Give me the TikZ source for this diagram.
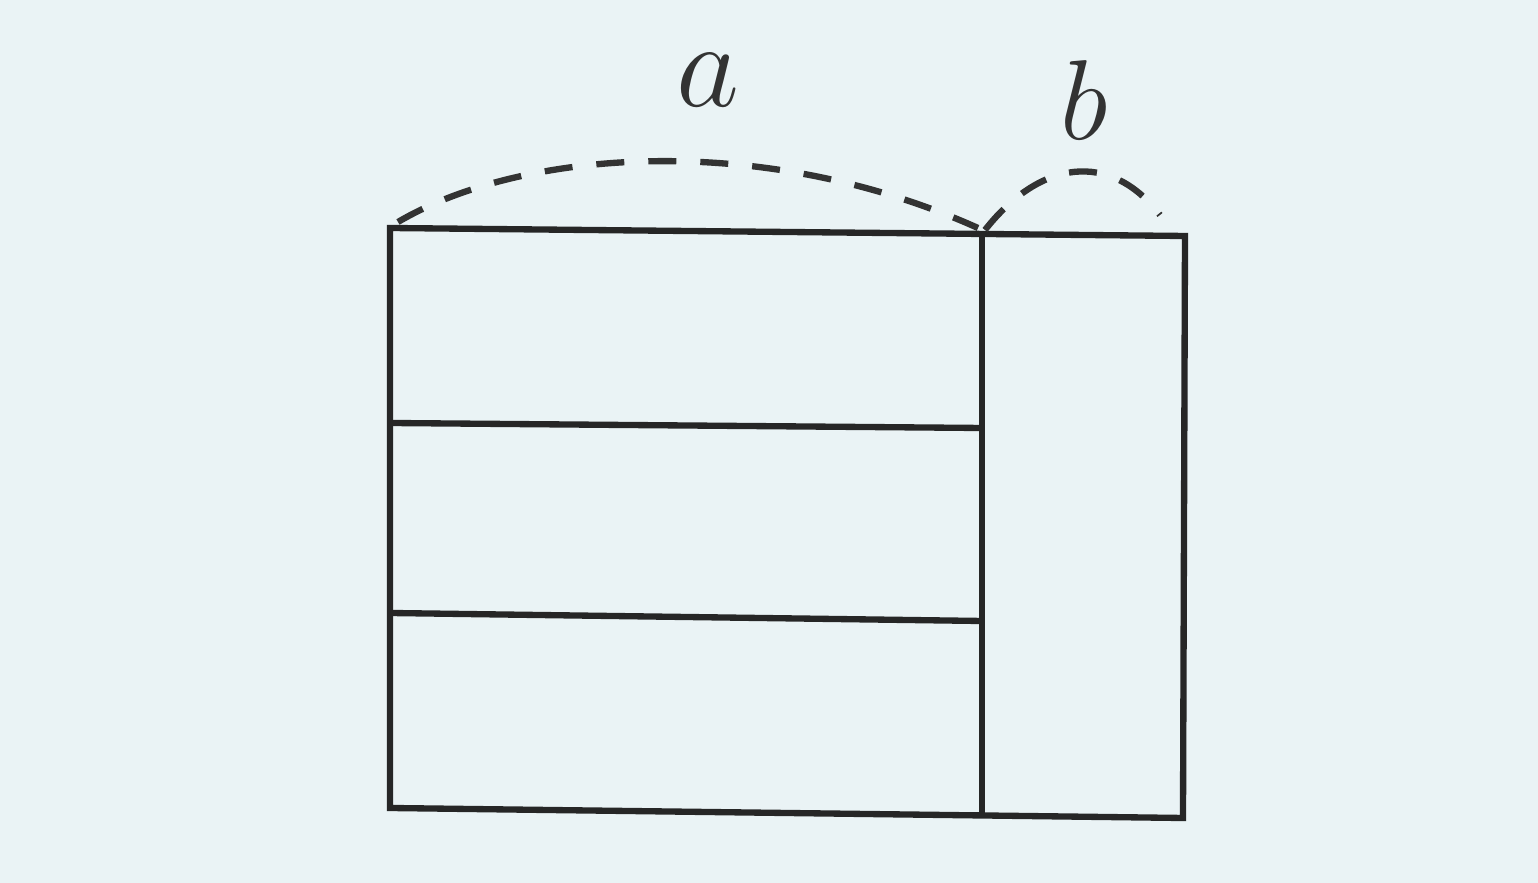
\documentclass[tikz,border=0pt]{standalone}
\begin{document}
\begin{tikzpicture}[x=0.01cm,y=-0.01cm,
  frame/.style={line width=1.8pt,draw=black!85},
  arc/.style={line width=1.8pt,draw=black!80,dash pattern=on 0.28cm off 0.24cm},
  lab/.style={font=\Huge,text=black!80}]
\fill[fill={rgb,255:red,234;green,243;blue,245}] (0,0) rectangle (1538,883);
\useasboundingbox (0,0) rectangle (1538,883);
\coordinate (TL) at (390,228);
\coordinate (TM) at (982,234);
\coordinate (TR) at (1185,236);
\coordinate (BL) at (390,808);
\coordinate (BM) at (982,815);
\coordinate (BR) at (1183,818);
\coordinate (L1) at (390,423);
\coordinate (M1) at (982,428);
\coordinate (L2) at (390,613);
\coordinate (M2) at (982,621);
\coordinate (aS) at (398,222);
\coordinate (aE) at (978,228);
\coordinate (bS) at (985,230);
\coordinate (bE) at (1160,215);
\draw[frame] (TL) -- (TR) -- (BR) -- (BL) -- cycle;
\draw[frame] (TM) -- (BM);
\draw[frame] (L1) -- (M1);
\draw[frame] (L2) -- (M2);
\draw[arc] (aS) .. controls (520,150) and (760,130) .. (aE);
\draw[arc] (bS) .. controls (1040,160) and (1110,150) .. (bE);
\node[lab] (a) at (708,80) {\scalebox{1.4}{$a$}};
\node[lab] (b) at (1084,100) {\scalebox{1.3}{$b$}};
\end{tikzpicture}
\end{document}
